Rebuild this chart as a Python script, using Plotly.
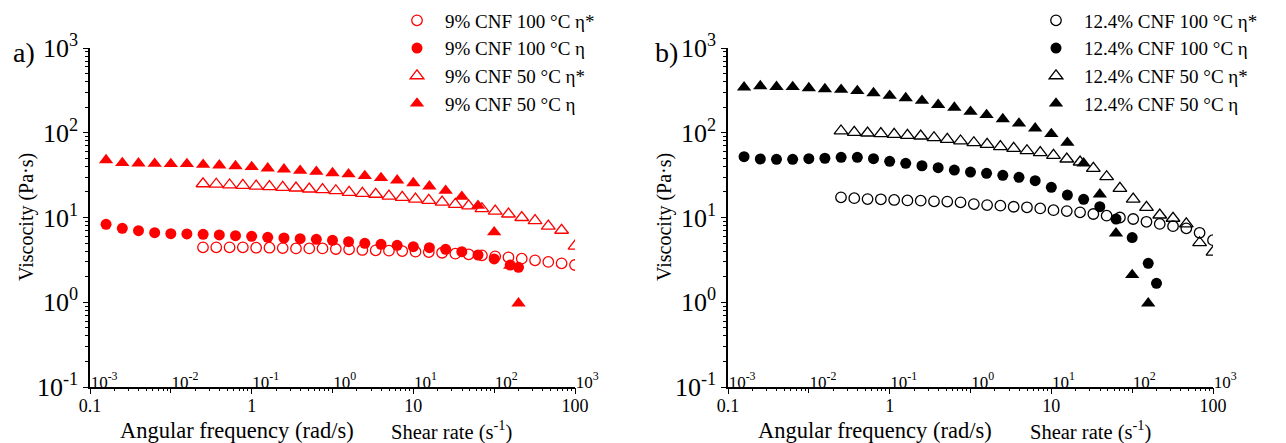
import plotly.graph_objects as go

W, H = 1286, 443

# steady-shear rates (s^-1) of the filled series
SHEAR_RATE = [0.00158, 0.00251, 0.00398, 0.00631, 0.01, 0.0158, 0.0251, 0.0398, 0.0631,
              0.1, 0.158, 0.251, 0.398, 0.631, 1.0, 1.58, 2.51, 3.98, 6.31,
              10.0, 15.8, 25.1, 39.8, 63.1, 100.0, 158.0, 200.0]

# oscillatory angular frequencies (rad/s) of the open series
ANG_FREQ = [0.5, 0.604, 0.730, 0.882, 1.066, 1.288, 1.556, 1.880, 2.271, 2.744,
            3.316, 4.006, 4.840, 5.848, 7.066, 8.537, 10.31, 12.46, 15.06, 18.19,
            21.98, 26.56, 32.09, 38.77, 46.84, 56.59, 68.37, 82.61, 100.0]

# panel a) 9 % CNF
A_ETA_STAR_100 = [4.45, 4.45, 4.45, 4.45, 4.40, 4.40, 4.36, 4.32, 4.32, 4.32,
                  4.25, 4.21, 4.14, 4.10, 4.06, 4.02, 3.95, 3.91, 3.84, 3.74,
                  3.68, 3.58, 3.48, 3.39, 3.27, 3.12, 2.99, 2.88, 2.75]
A_ETA_100 = [8.3, 7.46, 6.98, 6.62, 6.44, 6.39, 6.34, 6.22, 6.10, 6.00, 5.84, 5.73,
             5.62, 5.53, 5.38, 5.19, 4.96, 4.82, 4.70, 4.53, 4.40, 4.21, 3.95, 3.61,
             3.24, 2.75, 2.58]
A_ETA_STAR_50 = [25.0, 24.7, 24.2, 24.0, 23.5, 23.1, 22.7, 22.3, 21.7, 21.3,
                 20.7, 19.8, 19.3, 18.8, 17.9, 17.3, 16.5, 15.9, 15.2, 14.3,
                 13.7, 12.7, 11.9, 11.0, 10.0, 9.2, 7.9, 7.07, 4.6]
A_ETA_50 = [47.7, 44.0, 43.6, 43.1, 42.8, 42.8, 42.0, 41.3, 40.5, 39.5, 38.1, 37.1,
            35.7, 34.7, 33.5, 32.4, 30.9, 29.3, 27.5, 25.5, 23.3, 20.7, 17.6, 13.8,
            6.7, 2.7, 0.97]

# panel b) 12.4 % CNF
B_ETA_STAR_100 = [17.3, 16.9, 16.5, 16.4, 16.1, 15.9, 15.8, 15.5, 15.4, 15.1,
                  14.4, 14.0, 13.8, 13.4, 13.2, 12.8, 12.2, 11.9, 11.5, 11.0,
                  10.5, 10.0, 9.6, 8.9, 8.4, 7.9, 7.45, 6.6, 5.4]
B_ETA_100 = [52.2, 49.0, 48.6, 48.6, 49.4, 50.0, 51.3, 51.3, 49.4, 46.0, 43.6, 40.8,
             38.7, 36.3, 34.4, 33.2, 31.5, 29.8, 27.2, 22.7, 18.4, 16.4, 13.4, 9.6,
             5.8, 2.88, 1.67]
B_ETA_STAR_50 = [105, 101, 99.3, 97.5, 95.9, 93.3, 91.5, 87.4, 83.7, 80.0,
                 76.3, 73.0, 68.5, 65.5, 61.4, 58.2, 54.2, 49.0, 45.2, 38.0,
                 30.3, 22.1, 16.5, 13.2, 10.7, 9.8, 8.4, 5.04, 3.9]
B_ETA_50 = [344, 356, 349, 347, 337, 328, 322, 311, 294, 274, 257, 239, 214, 198,
            177, 162, 145, 129, 113, 96.7, 76.3, 43.6, 18.8, 6.5, 2.10, 0.97]

A_NAMES = ["9% CNF 100 °C η*", "9% CNF 100 °C η", "9% CNF 50 °C η*", "9% CNF 50 °C η"]
B_NAMES = ["12.4% CNF 100 °C η*", "12.4% CNF 100 °C η", "12.4% CNF 50 °C η*", "12.4% CNF 50 °C η"]

Y_TICKVALS = [0.1, 1, 10, 100, 1000]
Y_TICKTEXT = ["10<sup>-1</sup>", "10<sup>0</sup>", "10<sup>1</sup>", "10<sup>2</sup>", "10<sup>3</sup>"]
W_TICKVALS = [0.1, 1, 10, 100]
W_TICKTEXT = ["0.1", "1", "10", "100"]
G_TICKVALS = [1e-3, 1e-2, 1e-1, 1, 10, 100, 1000]
G_TICKTEXT = ["10<sup>-3</sup>", "10<sup>-2</sup>", "10<sup>-1</sup>", "10<sup>0</sup>",
              "10<sup>1</sup>", "10<sup>2</sup>", "10<sup>3</sup>"]

FONT = "Liberation Serif, Times New Roman, serif"
RED = "#ff0000"
BLACK = "#000000"


def px(x):
    return x / W


def py(y):
    return 1 - y / H


PLOT_TOP, PLOT_BOTTOM = 48, 387
PANELS = [
    dict(x0=90, x1=575, color=RED, names=A_NAMES, legend="legend", xa="x", xs="x3", ya="y",
         data=(A_ETA_STAR_100, A_ETA_100, A_ETA_STAR_50, A_ETA_50)),
    dict(x0=728, x1=1213, color=BLACK, names=B_NAMES, legend="legend2", xa="x2", xs="x4", ya="y2",
         data=(B_ETA_STAR_100, B_ETA_100, B_ETA_STAR_50, B_ETA_50)),
]

fig = go.Figure()

for p in PANELS:
    c = p["color"]
    star100, eta100, star50, eta50 = p["data"]
    specs = [
        (ANG_FREQ, star100, "circle-open", 10.5, p["xa"]),
        (SHEAR_RATE[:len(eta100)], eta100, "circle", 11, p["xs"]),
        (ANG_FREQ, star50, "triangle-up-open", 12, p["xa"]),
        (SHEAR_RATE[:len(eta50)], eta50, "triangle-up", 12.5, p["xs"]),
    ]
    for (xs, ys, sym, size, xax), name in zip(specs, p["names"]):
        fig.add_trace(go.Scatter(
            x=xs, y=ys, mode="markers", name=name,
            xaxis=xax, yaxis=p["ya"], legend=p["legend"],
            marker=dict(symbol=sym, size=size, color=c,
                        line=dict(color=c, width=1.3 if "open" in sym else 0)),
        ))

layout = dict(
    width=W, height=H,
    margin=dict(l=0, r=0, t=0, b=0, autoexpand=False),
    paper_bgcolor="white", plot_bgcolor="white",
    font=dict(family=FONT, color=BLACK),
    showlegend=True,
)

axis_common = dict(showgrid=False, zeroline=False, color=BLACK, tickcolor=BLACK,
                   tickwidth=1.3, automargin=False)

for i, p in enumerate(PANELS):
    n = "" if i == 0 else "2"
    xs_name = "xaxis3" if i == 0 else "xaxis4"
    dom_x = [px(p["x0"]), px(p["x1"])]
    # angular-frequency axis: carries the axis line and the outer labels
    layout["xaxis" + n] = dict(
        axis_common, domain=dom_x, anchor="y" + n, type="log", range=[-1, 2],
        tickmode="array", tickvals=W_TICKVALS, ticktext=W_TICKTEXT,
        ticks="outside", ticklen=5, showline=True, linewidth=1.5, linecolor=BLACK,
        tickfont=dict(size=18, family=FONT), ticklabelstandoff=-3,
    )
    # shear-rate axis drawn on the same line, labels inside the plot
    layout[xs_name] = dict(
        axis_common, overlaying="x" + n, anchor="free", position=py(PLOT_BOTTOM),
        side="bottom", type="log", range=[-3, 3], showline=False,
        tickmode="array", tickvals=G_TICKVALS, ticktext=G_TICKTEXT,
        ticks="outside", ticklen=5, ticklabelposition="inside right",
        ticklabelstandoff=-10, ticklabeloverflow="allow",
        tickfont=dict(size=17, family=FONT, color=BLACK),
        minor=dict(ticks="outside", ticklen=3, dtick="D1", tickcolor=BLACK, showgrid=False),
    )
    layout["yaxis" + n] = dict(
        axis_common, domain=[py(PLOT_BOTTOM), py(PLOT_TOP)], anchor="x" + n,
        type="log", range=[-1, 3], tickmode="array", tickvals=Y_TICKVALS,
        ticktext=Y_TICKTEXT, ticks="outside", ticklen=5, showline=True,
        linewidth=1.5, linecolor=BLACK, tickfont=dict(size=26, family=FONT),
        minor=dict(ticks="outside", ticklen=3, dtick="D1", tickcolor=BLACK, showgrid=False),
    )

legend_common = dict(xanchor="left", yanchor="top", bgcolor="rgba(0,0,0,0)",
                     font=dict(size=19, family=FONT, color=BLACK), itemwidth=46,
                     tracegroupgap=0)
layout["legend"] = dict(legend_common, x=px(389), y=py(1.5))
layout["legend2"] = dict(legend_common, x=px(1028), y=py(1.5))


def label(text, x, y, size, **kw):
    return dict(text=text, x=px(x), y=py(y), xref="paper", yref="paper",
                xanchor="center", yanchor="middle", showarrow=False,
                font=dict(size=size, family=FONT, color=BLACK), **kw)


annotations = []
for p, letter, lx, tx in [(PANELS[0], "a)", 24, 26), (PANELS[1], "b)", 666, 664)]:
    annotations += [
        label(letter, lx, 52, 28),
        label("Viscocity (Pa·s)", tx, 217, 20, textangle=-90),
        label("Angular frequency (rad/s)", p["x0"] + 147, 430, 22.5),
        label("Shear rate (s<sup>-1</sup>)", p["x0"] + 362, 430, 20.5),
    ]
layout["annotations"] = annotations

fig.update_layout(**layout)
fig.write_html("out.html")
